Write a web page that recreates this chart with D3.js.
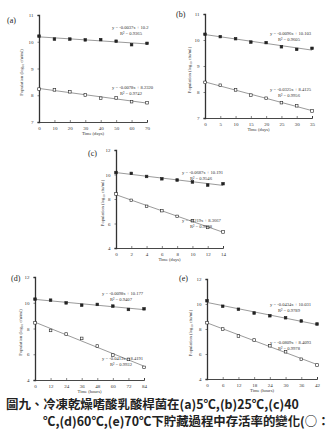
<!DOCTYPE html>
<html lang="zh-Hant">
<head>
<meta charset="UTF-8">
<title>圖九</title>
<script src="https://d3js.org/d3.v7.min.js"></script>
<style>
  body { margin: 0; background: #fff; }
  svg { display: block; }
  .tick-label { font-family: "Liberation Serif", serif; font-size: 5px; fill: #333; }
  .eq { font-family: "Liberation Serif", serif; font-size: 4.6px; fill: #333; }
  .panel-label { font-family: "Liberation Serif", serif; font-size: 8px; fill: #222; }
  .axis-title { font-family: "Liberation Serif", serif; font-size: 4.6px; fill: #333; }
  .caption { font-family: "Noto Sans CJK TC", sans-serif; font-size: 12.4px; font-weight: bold; fill: #222; }
</style>
</head>
<body>
<svg id="chart" width="327" height="433"></svg>
<script>
// (a) 5℃
const timeA = [0, 10, 20, 30, 40, 50, 60, 70];
const upperA = [10.21, 10.10, 10.10, 10.07, 10.08, 10.02, 9.89, 9.94];
const lowerA = [8.23, 8.20, 8.13, 8.01, 7.89, 7.90, 7.76, 7.72];
const yTicksA = [7, 8, 9, 10, 11];
const eqA = ["y = -0.0037x + 10.2", "R\u00b2 = 0.9365", "y = -0.0078x + 8.2320", "R\u00b2 = 0.9742"];

// (b) 25℃
const timeB = [0, 5, 10, 15, 20, 25, 30, 35];
const upperB = [10.22, 10.13, 10.05, 9.92, 9.90, 9.74, 9.64, 9.68];
const lowerB = [8.37, 8.26, 8.08, 7.88, 7.76, 7.59, 7.47, 7.27];
const yTicksB = [7, 8, 9, 10, 11];
const eqB = ["y = -0.0096x + 10.103", "R\u00b2 = 0.9605", "y = -0.0325x + 8.4125", "R\u00b2 = 0.9956"];

// (c) 40℃
const timeC = [0, 2, 4, 6, 8, 10, 12, 14];
const upperC = [10.16, 10.09, 9.84, 9.65, 9.55, 9.39, 9.14, 9.25];
const lowerC = [8.41, 7.89, 7.40, 7.05, 6.58, 6.23, 5.68, 5.31];
const yTicksC = [4, 6, 8, 10, 12];
const eqC = ["y = -0.0687x + 10.191", "R\u00b2 = 0.9546", "y = -0.219x + 8.3667", "R\u00b2 = 0.9968"];

// (d) 60℃
const timeD = [0, 12, 24, 36, 48, 60, 72, 84];
const upperD = [10.28, 10.20, 9.99, 9.81, 9.87, 9.74, 9.48, 9.53];
const lowerD = [8.44, 7.85, 7.57, 7.23, 6.64, 5.94, 5.60, 4.98];
const yTicksD = [4, 6, 8, 10, 12];
const eqD = ["y = -0.0098x + 10.177", "R\u00b2 = 0.9407", "y = -0.0413x + 8.4191", "R\u00b2 = 0.9932"];

// (e) 70℃
const timeE = [0, 6, 12, 18, 24, 30, 36, 42];
const upperE = [10.26, 9.82, 9.58, 9.28, 9.06, 8.90, 8.64, 8.40];
const lowerE = [8.50, 8.00, 7.44, 7.12, 6.66, 6.18, 5.58, 5.12];
const yTicksE = [4, 6, 8, 10, 12];
const eqE = ["y = -0.0434x + 10.031", "R\u00b2 = 0.9789", "y = -0.0809x + 8.4093", "R\u00b2 = 0.9978"];

const captionLines = [
  "圖九、冷凍乾燥嗜酸乳酸桿菌在(a)5℃,(b)25℃,(c)40",
  "℃,(d)60℃,(e)70℃下貯藏過程中存活率的變化(○："
];

// 版面配置
const panels = [
  { id: "(a)", t: timeA, up: upperA, lo: lowerA, yt: yTicksA, eq: eqA, xUnit: "Time (days)",
    x0: 39, x1: 147, yTop: 15, yBot: 122, lab: [7, 23], eqX: 112, eqUp: 29, eqLo: 89, titleX: 23 },
  { id: "(b)", t: timeB, up: upperB, lo: lowerB, yt: yTicksB, eq: eqB, xUnit: "Time (days)",
    x0: 205, x1: 312, yTop: 14, yBot: 118, lab: [176, 17], eqX: 270, eqUp: 35, eqLo: 91, titleX: 191 },
  { id: "(c)", t: timeC, up: upperC, lo: lowerC, yt: yTicksC, eq: eqC, xUnit: "Time (days)",
    x0: 116, x1: 223, yTop: 150, yBot: 248, lab: [88, 156], eqX: 182, eqUp: 174, eqLo: 222, titleX: 104 },
  { id: "(d)", t: timeD, up: upperD, lo: lowerD, yt: yTicksD, eq: eqD, xUnit: "Time (hours)",
    x0: 35, x1: 144, yTop: 277, yBot: 380, lab: [11, 281], eqX: 102, eqUp: 295, eqLo: 360, titleX: 22 },
  { id: "(e)", t: timeE, up: upperE, lo: lowerE, yt: yTicksE, eq: eqE, xUnit: "Time (hours)",
    x0: 207, x1: 317, yTop: 279, yBot: 379, lab: [179, 281], eqX: 270, eqUp: 306, eqLo: 344, titleX: 192 }
];

const svg = d3.select("#chart");
const ink = "#333";

// 最小平方法迴歸線
function fit(xs, ys) {
  const mx = d3.mean(xs), my = d3.mean(ys);
  const b = d3.sum(xs, (x, i) => (x - mx) * (ys[i] - my)) / d3.sum(xs, x => (x - mx) * (x - mx));
  return { b: b, a: my - b * mx };
}

panels.forEach(p => {
  const g = svg.append("g");
  const x = d3.scaleLinear().domain([p.t[0], p.t[p.t.length - 1]]).range([p.x0, p.x1]);
  const y = d3.scaleLinear().domain([p.yt[0], p.yt[p.yt.length - 1]]).range([p.yBot, p.yTop]);

  // 軸
  const ya = g.append("g").attr("transform", `translate(${p.x0},0)`)
    .call(d3.axisLeft(y).tickValues(p.yt).tickSize(1.5).tickPadding(4).tickFormat(d3.format("d")));
  const xa = g.append("g").attr("transform", `translate(0,${p.yBot})`)
    .call(d3.axisBottom(x).tickValues(p.t).tickSize(-2).tickPadding(4).tickFormat(d3.format("d")));
  [ya, xa].forEach(a => {
    a.select(".domain").attr("stroke", ink).attr("stroke-width", 0.9);
    a.selectAll(".tick line").attr("stroke", ink).attr("stroke-width", 0.6);
    a.selectAll(".tick text").attr("class", "tick-label").attr("font-size", null).attr("font-family", null).attr("fill", null);
  });
  ya.select(".domain").attr("stroke-width", 1.3);

  g.append("text").attr("class", "axis-title")
    .attr("transform", `translate(${p.titleX},${(p.yTop + p.yBot) / 2 + 4}) rotate(-90)`)
    .attr("text-anchor", "middle")
    .text("Population (log\u2081\u2080 cfu/ml)");
  g.append("text").attr("class", "axis-title")
    .attr("x", (p.x0 + p.x1) / 2).attr("y", p.yBot + 13)
    .attr("text-anchor", "middle").text(p.xUnit);

  g.append("text").attr("class", "panel-label")
    .attr("x", p.lab[0]).attr("y", p.lab[1]).text(p.id);

  // 迴歸線與資料點
  [p.up, p.lo].forEach((vals, k) => {
    const f = fit(p.t, vals);
    const t0 = p.t[0], t1 = p.t[p.t.length - 1];
    g.append("line")
      .attr("x1", x(t0)).attr("y1", y(f.a + f.b * t0))
      .attr("x2", x(t1)).attr("y2", y(f.a + f.b * t1))
      .attr("stroke", "#555").attr("stroke-width", 0.6);
    g.selectAll(null).data(vals).join("rect")
      .attr("x", (d, i) => x(p.t[i]) - 1.3)
      .attr("y", d => y(d) - 1.3)
      .attr("width", 2.6).attr("height", 2.6)
      .attr("fill", k === 0 ? "#222" : "#fff")
      .attr("stroke", "#222").attr("stroke-width", 0.6);
  });

  // 方程式
  g.append("text").attr("class", "eq").attr("x", p.eqX).attr("y", p.eqUp).text(p.eq[0]);
  g.append("text").attr("class", "eq").attr("x", p.eqX + 8).attr("y", p.eqUp + 6).text(p.eq[1]);
  g.append("text").attr("class", "eq").attr("x", p.eqX).attr("y", p.eqLo).text(p.eq[2]);
  g.append("text").attr("class", "eq").attr("x", p.eqX + 8).attr("y", p.eqLo + 6).text(p.eq[3]);
});

// 圖說（原圖右側被裁切）
svg.selectAll(".caption").data(captionLines).join("text")
  .attr("class", "caption")
  .attr("x", (d, i) => i === 0 ? 6 : 43)
  .attr("y", (d, i) => 409 + i * 17)
  .text(d => d);
</script>
</body>
</html>
